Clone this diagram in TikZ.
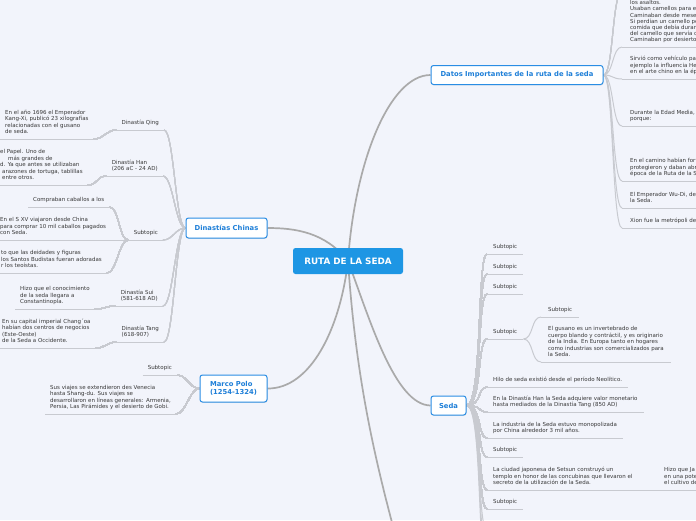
\documentclass[tikz,border=0pt]{standalone}
\usepackage{fontspec}
\setmainfont{DejaVu Sans}
\usetikzlibrary{shadows}
\definecolor{bgc}{HTML}{F2F4FB}
\definecolor{centralc}{HTML}{1E96E4}
\definecolor{topicb}{HTML}{2A8DE4}
\definecolor{topict}{HTML}{1E7FD8}
\definecolor{mainl}{HTML}{AAAAAA}
\definecolor{subl}{HTML}{C8CAD0}
\definecolor{txt}{HTML}{383838}
\pgfdeclarelayer{bglayer}
\pgfsetlayers{bglayer,main}
\newcommand{\leaffnt}{\fontsize{5.5}{6.6}\selectfont}
\newcommand{\rcurve}[2]{\draw[subc] (#1) .. controls +(10,0) and +(-10,0) .. (#2);}
\newcommand{\lcurve}[2]{\draw[subc] (#1) .. controls +(-10,0) and +(10,0) .. (#2);}
\tikzset{
  central/.style={fill=centralc, rounded corners=2.5pt, minimum width=110pt, minimum height=26pt, text=white, font=\fontsize{8.8}{10}\selectfont\bfseries, inner sep=0pt},
  topic/.style={draw=topicb, line width=1pt, fill=white, rounded corners=2.5pt, text=topict, font=\fontsize{6.8}{8.4}\selectfont\bfseries, inner sep=0pt, drop shadow={shadow xshift=0.5pt, shadow yshift=-0.9pt, opacity=0.18}},
  leaf/.style={align=left, font=\leaffnt, text=txt, inner xsep=5pt, inner ysep=3pt, text depth=2pt},
  rleaf/.style={leaf, anchor=south west},
  lleaf/.style={leaf, anchor=south east},
  mainc/.style={draw=mainl, line width=1.7pt},
  subc/.style={draw=subl, line width=1pt},
  uline/.style={draw=subl, line width=1pt},
}
\begin{document}
\begin{tikzpicture}[x=1pt,y=-1pt]
\useasboundingbox (0,0) rectangle (696,520);
\begin{pgfonlayer}{bglayer}
\fill[bgc] (0,0) rectangle (696,520);
\end{pgfonlayer}
% central and topics
\node[central] (c) at (348,261) {RUTA DE LA SEDA};
\node[topic, minimum width=172pt, minimum height=19pt] (datos) at (517,75) {Datos Importantes de la ruta de la seda};
\node[topic, minimum width=81pt, minimum height=20pt] (dyn) at (226.5,228) {Dinastías Chinas};
\node[topic, minimum width=67pt, minimum height=27pt, align=left] (mp) at (233.5,388.5) {Marco Polo\\(1254-1324)};
\node[topic, minimum width=35pt, minimum height=19pt] (seda) at (448.5,405.5) {Seda};
% Datos children
\node[rleaf, inner xsep=8pt, font=\fontsize{5.5}{6.2}\selectfont] (d1) at (622,47) {los asaltos.\\Usaban camellos para el\\Caminaban desde mese\\Si perdían un camello pe\\comida que debía durar\\del camello que servía c\\Caminaban por desierto};
\node[rleaf, inner xsep=8pt] (d2) at (622,79) {Sirvió como vehículo pa\\ejemplo la influencia He\\en el arte chino en la ép};
\node[rleaf, inner xsep=8pt] (d3) at (622,126) {Durante la Edad Media,\\porque:};
\node[rleaf, inner xsep=8pt] (d4) at (622,181) {En el camino habían fort\\protegieron y daban abr\\época de la Ruta de la S};
\node[rleaf, inner xsep=8pt] (d5) at (622,208) {El Emperador Wu-Di, de\\la Seda.};
\node[rleaf, inner xsep=8pt] (d6) at (622,228) {Xion fue la metrópoli de};
\coordinate (d0) at (622,-8);
% Dinastias children
\node[lleaf] (q) at (164,130) {Dinastía Qing};
\node[lleaf] (h) at (163,176) {Dinastía Han\\(206 aC - 24 AD)};
\node[lleaf] (st) at (163,240) {Subtopic};
\node[lleaf] (su) at (163,306) {Dinastía Sui\\(581-618 AD)};
\node[lleaf] (t) at (164,342) {Dinastía Tang\\(618-907)};
\node[rleaf] (qg) at (0,139) {En el año 1696 el Emperador\\Kang-Xi, publicó 23 xilografías\\relacionadas con el gusano\\de seda.};
\node[rleaf] (hg) at (-5,185) {el Papel. Uno de\\\hspace*{8pt}más grandes de\\d. Ya que antes se utilizaban\\\hspace*{2pt}arazones de tortuga, tablillas\\\hspace*{2pt}entre otros.};
\node[rleaf] (s1) at (28,207) {Compraban caballos a los};
\node[rleaf] (s2) at (-5,240) {En el S XV viajaron desde China\\para comprar 10 mil caballos pagados\\con Seda.};
\node[rleaf] (s3) at (-4,273) {to que las deidades y figuras\\los Santos Budistas fueran adoradas\\r los teoístas.};
\node[rleaf] (sug) at (15,309) {Hizo que el conocimiento\\de la seda llegara a\\Constantinopla.};
\node[rleaf] (tg) at (-3,348) {En su capital imperial Chang´oa\\habían dos centros de negocios\\(Este-Oeste)\\de la Seda a Occidente.};
% Marco Polo children
\node[lleaf] (ms) at (177,375) {Subtopic};
\node[rleaf] (mg) at (45,414) {Sus viajes se extendieron des Venecia\\hasta Shang-du. Sus viajes se\\desarrollaron en líneas generales: Armenia,\\Persia, Las Pirámides y el desierto de Gobi.};
% Seda children
\node[rleaf, inner xsep=6pt] (e1) at (487,254) {Subtopic};
\node[rleaf, inner xsep=6pt] (e2) at (487,274) {Subtopic};
\node[rleaf, inner xsep=6pt] (e3) at (487,294) {Subtopic};
\node[rleaf, inner xsep=6pt] (e4) at (487,339) {Subtopic};
\node[rleaf, inner xsep=7pt] (e4a) at (541,317) {Subtopic};
\node[rleaf, inner xsep=7pt] (e4b) at (541,362) {El gusano es un invertebrado de\\cuerpo blando y contráctil, y es originario\\de la India. En Europa tanto en hogares\\como industrias son comercializados para\\la Seda.};
\node[rleaf, inner xsep=6pt] (e5) at (487,387) {Hilo de seda existió desde el período Neolítico.};
\node[rleaf, inner xsep=6pt] (e6) at (487,412) {En la Dinastía Han la Seda adquiere valor monetario\\hasta mediados de la Dinastía Tang (850 AD)};
\node[rleaf, inner xsep=6pt] (e7) at (487,438) {La industria de la Seda estuvo monopolizada\\por China alrededor 3 mil años.};
\node[rleaf, inner xsep=6pt] (e8) at (487,457) {Subtopic};
\node[rleaf, inner xsep=6pt] (e9) at (487,490) {La ciudad japonesa de Setsun construyó un\\templo en honor de las concubinas que llevaron el\\secreto de la utilización de la Seda.};
\node[rleaf, inner xsep=7pt] (e9a) at (657,490) {Hizo que Ja\\en una pote\\el cultivo de};
\node[rleaf, inner xsep=6pt] (e10) at (487,509) {Subtopic};
\coordinate (eo1) at (487,530);
\coordinate (eo2) at (487,548);
\coordinate (eo3) at (487,566);
\coordinate (offc) at (398,545);
% connectors
\begin{pgfonlayer}{bglayer}
\draw[mainc] (c.center) .. controls (355,160) and (390,75) .. (datos.west);
\draw[mainc] (c.center) .. controls (325,232) and (295,228) .. (dyn.east);
\draw[mainc] (c.center) .. controls (340,330) and (310,389) .. (mp.east);
\draw[mainc] (c.center) .. controls (370,320) and (395,405) .. (seda.west);
\draw[mainc] (c.center) .. controls (356,380) and (375,460) .. (offc);
\foreach \n in {d1,d2,d3,d4,d5,d6,q,h,st,su,t,qg,hg,s1,s2,s3,sug,tg,ms,mg,e1,e2,e3,e4,e4a,e4b,e5,e6,e7,e8,e9,e9a,e10}
  \draw[uline] (\n.south west) -- (\n.south east);
\foreach \n in {d1,d2,d3,d4,d5,d6} \rcurve{datos.east}{\n.south west}
\rcurve{datos.east}{d0}
\foreach \n in {q,h,st,su,t} \lcurve{dyn.west}{\n.south east}
\lcurve{q.south west}{qg.south east}
\lcurve{h.south west}{hg.south east}
\foreach \n in {s1,s2,s3} \lcurve{st.south west}{\n.south east}
\lcurve{su.south west}{sug.south east}
\lcurve{t.south west}{tg.south east}
\lcurve{mp.west}{ms.south east}
\lcurve{mp.west}{mg.south east}
\foreach \n in {e1,e2,e3,e4,e5,e6,e7,e8,e9,e10} \draw[subc] (seda.east) .. controls +(16,0) and +(-10,0) .. (\n.south west);
\foreach \n in {eo1,eo2,eo3} \draw[subc] (seda.east) .. controls +(16,0) and +(-10,0) .. (\n);
\rcurve{e4.south east}{e4a.south west}
\rcurve{e4.south east}{e4b.south west}
\draw[subc] (e9.south east) -- (e9a.south west);
\end{pgfonlayer}
\end{tikzpicture}
\end{document}
